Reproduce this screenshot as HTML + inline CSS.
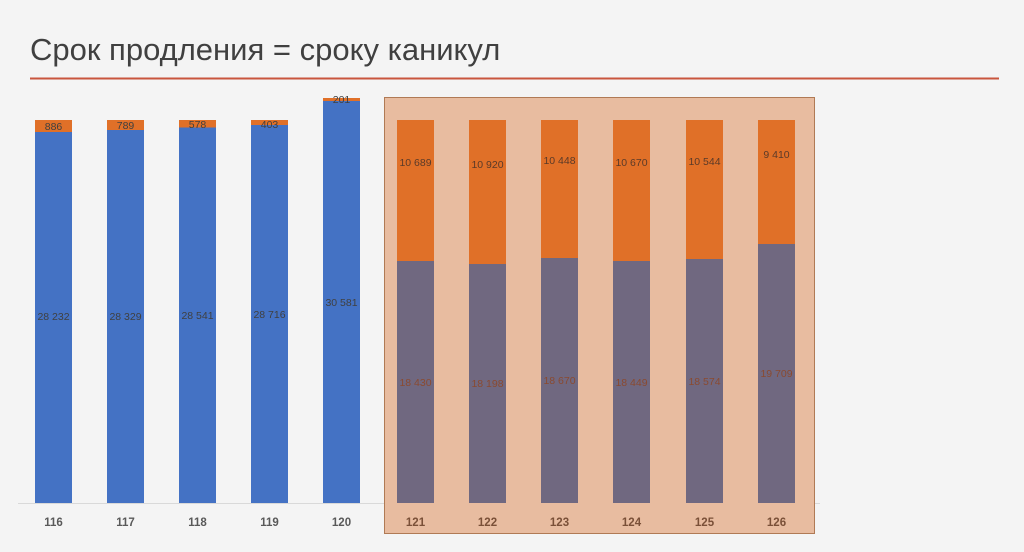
<!DOCTYPE html>
<html><head><meta charset="utf-8"><style>
body{margin:0;background:#f4f4f4;}
svg{display:block;font-family:"Liberation Sans",sans-serif;}
</style></head><body>
<svg width="1024" height="552" viewBox="0 0 1024 552">
<rect width="1024" height="552" fill="#f4f4f4"/>
<text x="30" y="60" font-size="31" fill="#404040">Срок продления = сроку каникул</text>
<line x1="30" y1="78.5" x2="999" y2="78.5" stroke="#c9553d" stroke-width="2"/>
<line x1="18" y1="503.5" x2="820" y2="503.5" stroke="#d9d9d9" stroke-width="1"/>
<g font-size="10.5" fill="#404040" text-anchor="middle">
<rect x="35" y="132" width="37" height="371" fill="#4472c4"/><rect x="35" y="120" width="37" height="12" fill="#e07028"/>
<text x="53.5" y="130">886</text><text x="53.5" y="320">28 232</text>
<rect x="107" y="130" width="37" height="373" fill="#4472c4"/><rect x="107" y="120" width="37" height="10" fill="#e07028"/>
<text x="125.5" y="129">789</text><text x="125.5" y="320">28 329</text>
<rect x="179" y="127.5" width="37" height="375.5" fill="#4472c4"/><rect x="179" y="120" width="37" height="7.5" fill="#e07028"/>
<text x="197.5" y="128">578</text><text x="197.5" y="319">28 541</text>
<rect x="251" y="125" width="37" height="378" fill="#4472c4"/><rect x="251" y="120" width="37" height="5" fill="#e07028"/>
<text x="269.5" y="128">403</text><text x="269.5" y="318">28 716</text>
<rect x="323" y="101" width="37" height="402" fill="#4472c4"/><rect x="323" y="98" width="37" height="3" fill="#e07028"/>
<text x="341.5" y="103">201</text><text x="341.5" y="306">30 581</text>
</g>
<rect x="384.5" y="97.5" width="430" height="436" fill="#e8bca0" stroke="#b07a55" stroke-width="1"/>
<g font-size="10.5" text-anchor="middle">
<g fill="#e07028">
<rect x="397" y="120" width="37" height="141"/><rect x="469" y="120" width="37" height="144"/><rect x="541" y="120" width="37" height="138"/><rect x="613" y="120" width="37" height="141"/><rect x="686" y="120" width="37" height="139"/><rect x="758" y="120" width="37" height="124"/>
</g>
<g fill="#706880">
<rect x="397" y="261" width="37" height="242"/><rect x="469" y="264" width="37" height="239"/><rect x="541" y="258" width="37" height="245"/><rect x="613" y="261" width="37" height="242"/><rect x="686" y="259" width="37" height="244"/><rect x="758" y="244" width="37" height="259"/>
</g>
<g fill="#5a3a28">
<text x="415.5" y="166">10 689</text><text x="487.5" y="168">10 920</text><text x="559.5" y="164">10 448</text><text x="631.5" y="166">10 670</text><text x="704.5" y="165">10 544</text><text x="776.5" y="158">9 410</text>
</g>
<g fill="#8a4a30">
<text x="415.5" y="386">18 430</text><text x="487.5" y="387">18 198</text><text x="559.5" y="384">18 670</text><text x="631.5" y="386">18 449</text><text x="704.5" y="385">18 574</text><text x="776.5" y="377">19 709</text>
</g>
</g>
<g font-size="11.5" font-weight="bold" text-anchor="middle" fill="#595959">
<text x="53.5" y="526">116</text><text x="125.5" y="526">117</text><text x="197.5" y="526">118</text><text x="269.5" y="526">119</text><text x="341.5" y="526">120</text>
</g>
<g font-size="11.5" font-weight="bold" text-anchor="middle" fill="#7a5038">
<text x="415.5" y="526">121</text><text x="487.5" y="526">122</text><text x="559.5" y="526">123</text><text x="631.5" y="526">124</text><text x="704.5" y="526">125</text><text x="776.5" y="526">126</text>
</g>
</svg>
</body></html>
